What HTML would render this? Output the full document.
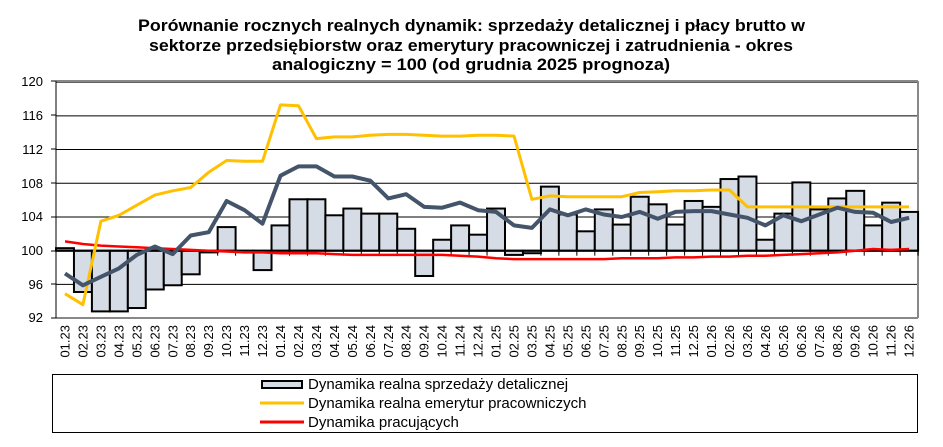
<!DOCTYPE html>
<html><head><meta charset="utf-8"><style>
html,body{margin:0;padding:0;background:#fff}
svg{display:block;font-family:"Liberation Sans",Arial,sans-serif}
</style></head><body>
<svg id="s" width="943" height="447" viewBox="0 0 943 447" xmlns="http://www.w3.org/2000/svg">
<rect width="943" height="447" fill="#fff"/>
<g font-weight="bold" font-size="17" fill="#000">
<text x="138" y="31" textLength="667" lengthAdjust="spacingAndGlyphs">Porównanie rocznych realnych dynamik: sprzedaży detalicznej i płacy brutto w</text>
<text x="149" y="51" textLength="644" lengthAdjust="spacingAndGlyphs">sektorze przedsiębiorstw oraz emerytury pracowniczej i zatrudnienia - okres</text>
<text x="272" y="70" textLength="398" lengthAdjust="spacingAndGlyphs">analogiczny = 100 (od grudnia 2025 prognoza)</text>
</g>
<g id="grid"></g>
<g id="bars"></g>
<g id="lines"></g>
<g font-size="13" text-anchor="end" fill="#000">
<text x="43" y="86">120</text><text x="43" y="120">116</text><text x="43" y="154">112</text><text x="43" y="188">108</text><text x="43" y="221">104</text><text x="43" y="255">100</text><text x="43" y="289">96</text><text x="43" y="322">92</text>
</g>
<g font-size="13" text-anchor="end" fill="#000">
<text transform="translate(69.5,325) rotate(-90)">01.23</text>
<text transform="translate(87.5,325) rotate(-90)">02.23</text>
<text transform="translate(105.4,325) rotate(-90)">03.23</text>
<text transform="translate(123.4,325) rotate(-90)">04.23</text>
<text transform="translate(141.3,325) rotate(-90)">05.23</text>
<text transform="translate(159.3,325) rotate(-90)">06.23</text>
<text transform="translate(177.3,325) rotate(-90)">07.23</text>
<text transform="translate(195.2,325) rotate(-90)">08.23</text>
<text transform="translate(213.2,325) rotate(-90)">09.23</text>
<text transform="translate(231.1,325) rotate(-90)">10.23</text>
<text transform="translate(249.1,325) rotate(-90)">11.23</text>
<text transform="translate(267.1,325) rotate(-90)">12.23</text>
<text transform="translate(285,325) rotate(-90)">01.24</text>
<text transform="translate(303,325) rotate(-90)">02.24</text>
<text transform="translate(320.9,325) rotate(-90)">03.24</text>
<text transform="translate(338.9,325) rotate(-90)">04.24</text>
<text transform="translate(356.9,325) rotate(-90)">05.24</text>
<text transform="translate(374.8,325) rotate(-90)">06.24</text>
<text transform="translate(392.8,325) rotate(-90)">07.24</text>
<text transform="translate(410.7,325) rotate(-90)">08.24</text>
<text transform="translate(428.7,325) rotate(-90)">09.24</text>
<text transform="translate(446.7,325) rotate(-90)">10.24</text>
<text transform="translate(464.6,325) rotate(-90)">11.24</text>
<text transform="translate(482.6,325) rotate(-90)">12.24</text>
<text transform="translate(500.5,325) rotate(-90)">01.25</text>
<text transform="translate(518.5,325) rotate(-90)">02.25</text>
<text transform="translate(536.5,325) rotate(-90)">03.25</text>
<text transform="translate(554.4,325) rotate(-90)">04.25</text>
<text transform="translate(572.4,325) rotate(-90)">05.25</text>
<text transform="translate(590.3,325) rotate(-90)">06.25</text>
<text transform="translate(608.3,325) rotate(-90)">07.25</text>
<text transform="translate(626.3,325) rotate(-90)">08.25</text>
<text transform="translate(644.2,325) rotate(-90)">09.25</text>
<text transform="translate(662.2,325) rotate(-90)">10.25</text>
<text transform="translate(680.1,325) rotate(-90)">11.25</text>
<text transform="translate(698.1,325) rotate(-90)">12.25</text>
<text transform="translate(716.1,325) rotate(-90)">01.26</text>
<text transform="translate(734,325) rotate(-90)">02.26</text>
<text transform="translate(752,325) rotate(-90)">03.26</text>
<text transform="translate(769.9,325) rotate(-90)">04.26</text>
<text transform="translate(787.9,325) rotate(-90)">05.26</text>
<text transform="translate(805.9,325) rotate(-90)">06.26</text>
<text transform="translate(823.8,325) rotate(-90)">07.26</text>
<text transform="translate(841.8,325) rotate(-90)">08.26</text>
<text transform="translate(859.7,325) rotate(-90)">09.26</text>
<text transform="translate(877.7,325) rotate(-90)">10.26</text>
<text transform="translate(895.7,325) rotate(-90)">11.26</text>
<text transform="translate(913.6,325) rotate(-90)">12.26</text>
</g>
<rect x="52.5" y="374.5" width="865" height="58" fill="#fff" stroke="#000" stroke-width="1"/>
<rect x="262" y="381" width="40" height="7" fill="#d6dce5" stroke="#000" stroke-width="2"/>
<line x1="260" y1="403" x2="304" y2="403" stroke="#ffc000" stroke-width="3"/>
<line x1="260" y1="422" x2="304" y2="422" stroke="#ff0000" stroke-width="3"/>
<g font-size="15" fill="#000">
<text x="308" y="389">Dynamika realna sprzedaży detalicznej</text>
<text x="308" y="408">Dynamika realna emerytur pracowniczych</text>
<text x="308" y="427">Dynamika pracujących</text>
</g>
</svg>
<script>
var NS="http://www.w3.org/2000/svg";
function Y(v){return 250.7-(v-100)*8.43;}
var L=56,W=17.96,R=918;
function el(p,t,a){var e=document.createElementNS(NS,t);for(var k in a)e.setAttribute(k,a[k]);document.getElementById(p).appendChild(e);return e;}
[120,116,112,108,104,96].forEach(function(v){el("grid","line",{x1:L,x2:R,y1:Y(v),y2:Y(v),stroke:"#000","stroke-width":1});});
el("grid","line",{x1:L,x2:R,y1:81,y2:81,stroke:"#888","stroke-width":2});
el("grid","line",{x1:R,x2:R,y1:81,y2:318,stroke:"#888","stroke-width":2});
el("grid","line",{x1:L,x2:R,y1:318,y2:318,stroke:"#888","stroke-width":2});
el("grid","line",{x1:L,x2:L,y1:81,y2:318,stroke:"#000","stroke-width":1});
[81,115,149,183,217,251,284,318].forEach(function(y){el("grid","line",{x1:51,x2:L,y1:y,y2:y,stroke:"#000"});});
var bars=[100.3,95.1,92.8,92.8,93.2,95.4,95.9,97.2,99.8,102.8,99.9,97.7,103.0,106.1,106.1,104.2,105.0,104.4,104.4,102.6,97.0,101.3,103.0,101.9,105.0,99.5,99.7,107.6,104.3,102.3,104.9,103.1,106.4,105.5,103.1,105.9,105.2,108.5,108.8,101.3,104.4,108.1,104.9,106.2,107.1,103.0,105.7,104.6];
bars.forEach(function(v,i){var y1=Y(Math.max(v,100)),y2=Y(Math.min(v,100));el("bars","rect",{x:L+i*W,y:y1,width:W,height:Math.max(y2-y1,1),fill:"#d6dce5",stroke:"#000","stroke-width":2});});
el("bars","line",{x1:L,x2:R,y1:Y(100),y2:Y(100),stroke:"#000","stroke-width":2});
for(var i=0;i<=48;i++)el("bars","line",{x1:L+i*W,x2:L+i*W,y1:Y(100),y2:Y(100)+5,stroke:"#000"});
var yel=[94.9,93.6,103.5,104.2,105.4,106.6,107.1,107.5,109.3,110.7,110.6,110.6,117.3,117.2,113.3,113.5,113.5,113.7,113.8,113.8,113.7,113.6,113.6,113.7,113.7,113.6,106.1,106.5,106.4,106.4,106.4,106.4,106.9,107.0,107.1,107.1,107.2,107.2,105.2,105.2,105.2,105.2,105.2,105.2,105.2,105.2,105.2,105.2];
var gry=[97.3,95.9,96.9,97.9,99.5,100.5,99.6,101.8,102.2,105.9,104.8,103.2,108.9,110.0,110.0,108.8,108.8,108.3,106.2,106.7,105.2,105.1,105.7,104.8,104.6,103.0,102.7,104.9,104.2,104.9,104.3,104.0,104.6,103.8,104.6,104.7,104.7,104.3,103.9,103.0,104.2,103.5,104.3,105.1,104.6,104.5,103.4,103.9];
var red=[101.1,100.8,100.6,100.5,100.4,100.3,100.2,100.1,100.0,99.9,99.8,99.8,99.7,99.7,99.7,99.6,99.5,99.5,99.5,99.5,99.5,99.5,99.4,99.3,99.1,99.0,99.0,99.0,99.0,99.0,99.0,99.1,99.1,99.1,99.2,99.2,99.3,99.3,99.4,99.4,99.5,99.6,99.7,99.8,100.0,100.2,100.1,100.2];
function pl(d,c,w){el("lines","polyline",{points:d.map(function(v,i){return (L+W*(i+0.5)).toFixed(1)+","+Y(v).toFixed(1);}).join(" "),fill:"none",stroke:c,"stroke-width":w,"stroke-linejoin":"round"});}
pl(red,"#ff0000",2.5);pl(yel,"#ffc000",3);pl(gry,"#44546a",4);
</script>
</body></html>
